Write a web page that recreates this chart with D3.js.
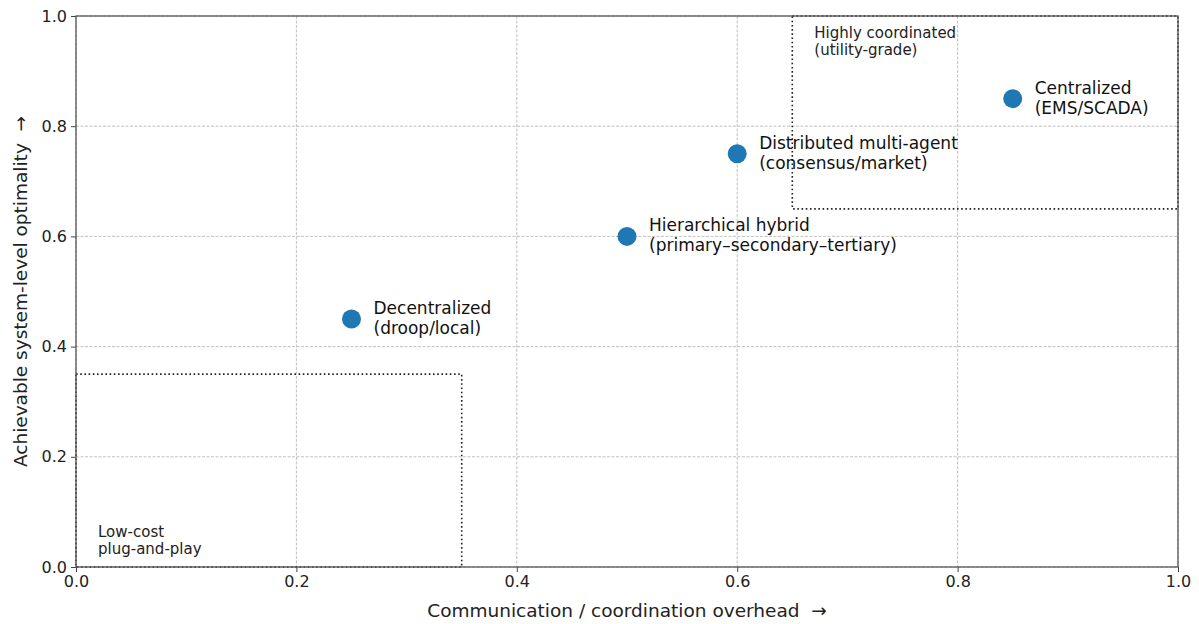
<!DOCTYPE html>
<html><head><meta charset="utf-8">
<script src="https://cdn.jsdelivr.net/npm/d3@7"></script>
<style>body{margin:0;background:#fff;font-family:"DejaVu Sans",sans-serif;}</style>
</head><body>
<svg id="c" width="1199" height="624"></svg>
<script>
const names = ["Decentralized", "Hierarchical hybrid", "Distributed multi-agent", "Centralized"];
const subs = ["(droop/local)", "(primary\u2013secondary\u2013tertiary)", "(consensus/market)", "(EMS/SCADA)"];
const overhead = [0.25, 0.5, 0.6, 0.85];
const optimality = [0.45, 0.6, 0.75, 0.85];
const xTicks = [0, 0.2, 0.4, 0.6, 0.8, 1.0];
const yTicks = [0, 0.2, 0.4, 0.6, 0.8, 1.0];
const regionLabels = [["Low-cost", "plug-and-play"], ["Highly coordinated", "(utility-grade)"]];
const regionX0 = [0, 0.65], regionX1 = [0.35, 1.0], regionY0 = [0, 0.65], regionY1 = [0.35, 1.0];

const svg = d3.select("#c");
const L = 76, R = 1178, T = 16, B = 567;
const x = d3.scaleLinear().domain([0, 1]).range([L, R]);
const y = d3.scaleLinear().domain([0, 1]).range([B, T]);
const font = "DejaVu Sans, sans-serif";

// grid
const g = svg.append("g");
g.selectAll(".gx").data(xTicks).enter().append("line")
  .attr("x1", d => x(d)).attr("x2", d => x(d)).attr("y1", T).attr("y2", B)
  .attr("stroke", "#b0b0b0").attr("stroke-width", 0.8).attr("stroke-dasharray", "3,1.5");
g.selectAll(".gy").data(yTicks).enter().append("line")
  .attr("y1", d => y(d)).attr("y2", d => y(d)).attr("x1", L).attr("x2", R)
  .attr("stroke", "#b0b0b0").attr("stroke-width", 0.8).attr("stroke-dasharray", "3,1.5");

// regions
regionX0.forEach((_, i) => {
  svg.append("rect")
    .attr("x", x(regionX0[i])).attr("y", y(regionY1[i]))
    .attr("width", x(regionX1[i]) - x(regionX0[i])).attr("height", y(regionY0[i]) - y(regionY1[i]))
    .attr("fill", "none").attr("stroke", "#222").attr("stroke-width", 1.6).attr("stroke-dasharray", "1.6,2.6");
});
// region labels
const rl0 = svg.append("text").attr("font-family", font).attr("font-size", 15).attr("fill", "#222");
rl0.append("tspan").attr("x", x(0.02)).attr("y", y(0.02) - 19).text(regionLabels[0][0]);
rl0.append("tspan").attr("x", x(0.02)).attr("y", y(0.02) - 2).text(regionLabels[0][1]);
const rl1 = svg.append("text").attr("font-family", font).attr("font-size", 15).attr("fill", "#222");
rl1.append("tspan").attr("x", x(0.67)).attr("y", y(0.98) + 11).text(regionLabels[1][0]);
rl1.append("tspan").attr("x", x(0.67)).attr("y", y(0.98) + 28).text(regionLabels[1][1]);

// axes
const xAxis = svg.append("g").attr("transform", `translate(0,${B})`)
  .call(d3.axisBottom(x).tickValues(xTicks).tickFormat(d3.format(".1f")).tickSize(5).tickPadding(4));
const yAxis = svg.append("g").attr("transform", `translate(${L},0)`)
  .call(d3.axisLeft(y).tickValues(yTicks).tickFormat(d3.format(".1f")).tickSize(5).tickPadding(4));
[xAxis, yAxis].forEach(a => {
  a.select(".domain").remove();
  a.selectAll("line").attr("stroke", "#444").attr("stroke-width", 1);
  a.selectAll("text").attr("font-family", font).attr("font-size", 16).attr("fill", "#222");
});
// frame
svg.append("rect").attr("x", L).attr("y", T).attr("width", R - L).attr("height", B - T)
  .attr("fill", "none").attr("stroke", "#555").attr("stroke-width", 1.3);

// points
svg.selectAll(".pt").data(overhead).enter().append("circle")
  .attr("cx", d => x(d)).attr("cy", (d, i) => y(optimality[i])).attr("r", 9.5)
  .attr("fill", "#1f77b4");
overhead.forEach((d, i) => {
  const t = svg.append("text").attr("font-family", font).attr("font-size", 17).attr("fill", "#111");
  t.append("tspan").attr("x", x(d) + 22).attr("y", y(optimality[i]) - 5).text(names[i]);
  t.append("tspan").attr("x", x(d) + 22).attr("y", y(optimality[i]) + 15).text(subs[i]);
});

// axis labels
svg.append("text").attr("font-family", font).attr("font-size", 18.5).attr("fill", "#222")
  .attr("text-anchor", "middle").attr("x", (L + R) / 2).attr("y", 617)
  .text("Communication / coordination overhead \u00a0\u2192");
svg.append("text").attr("font-family", font).attr("font-size", 18.5).attr("fill", "#222")
  .attr("text-anchor", "middle").attr("transform", `translate(27,${(T + B) / 2}) rotate(-90)`)
  .text("Achievable system-level optimality \u00a0\u2192");
</script>
</body></html>
